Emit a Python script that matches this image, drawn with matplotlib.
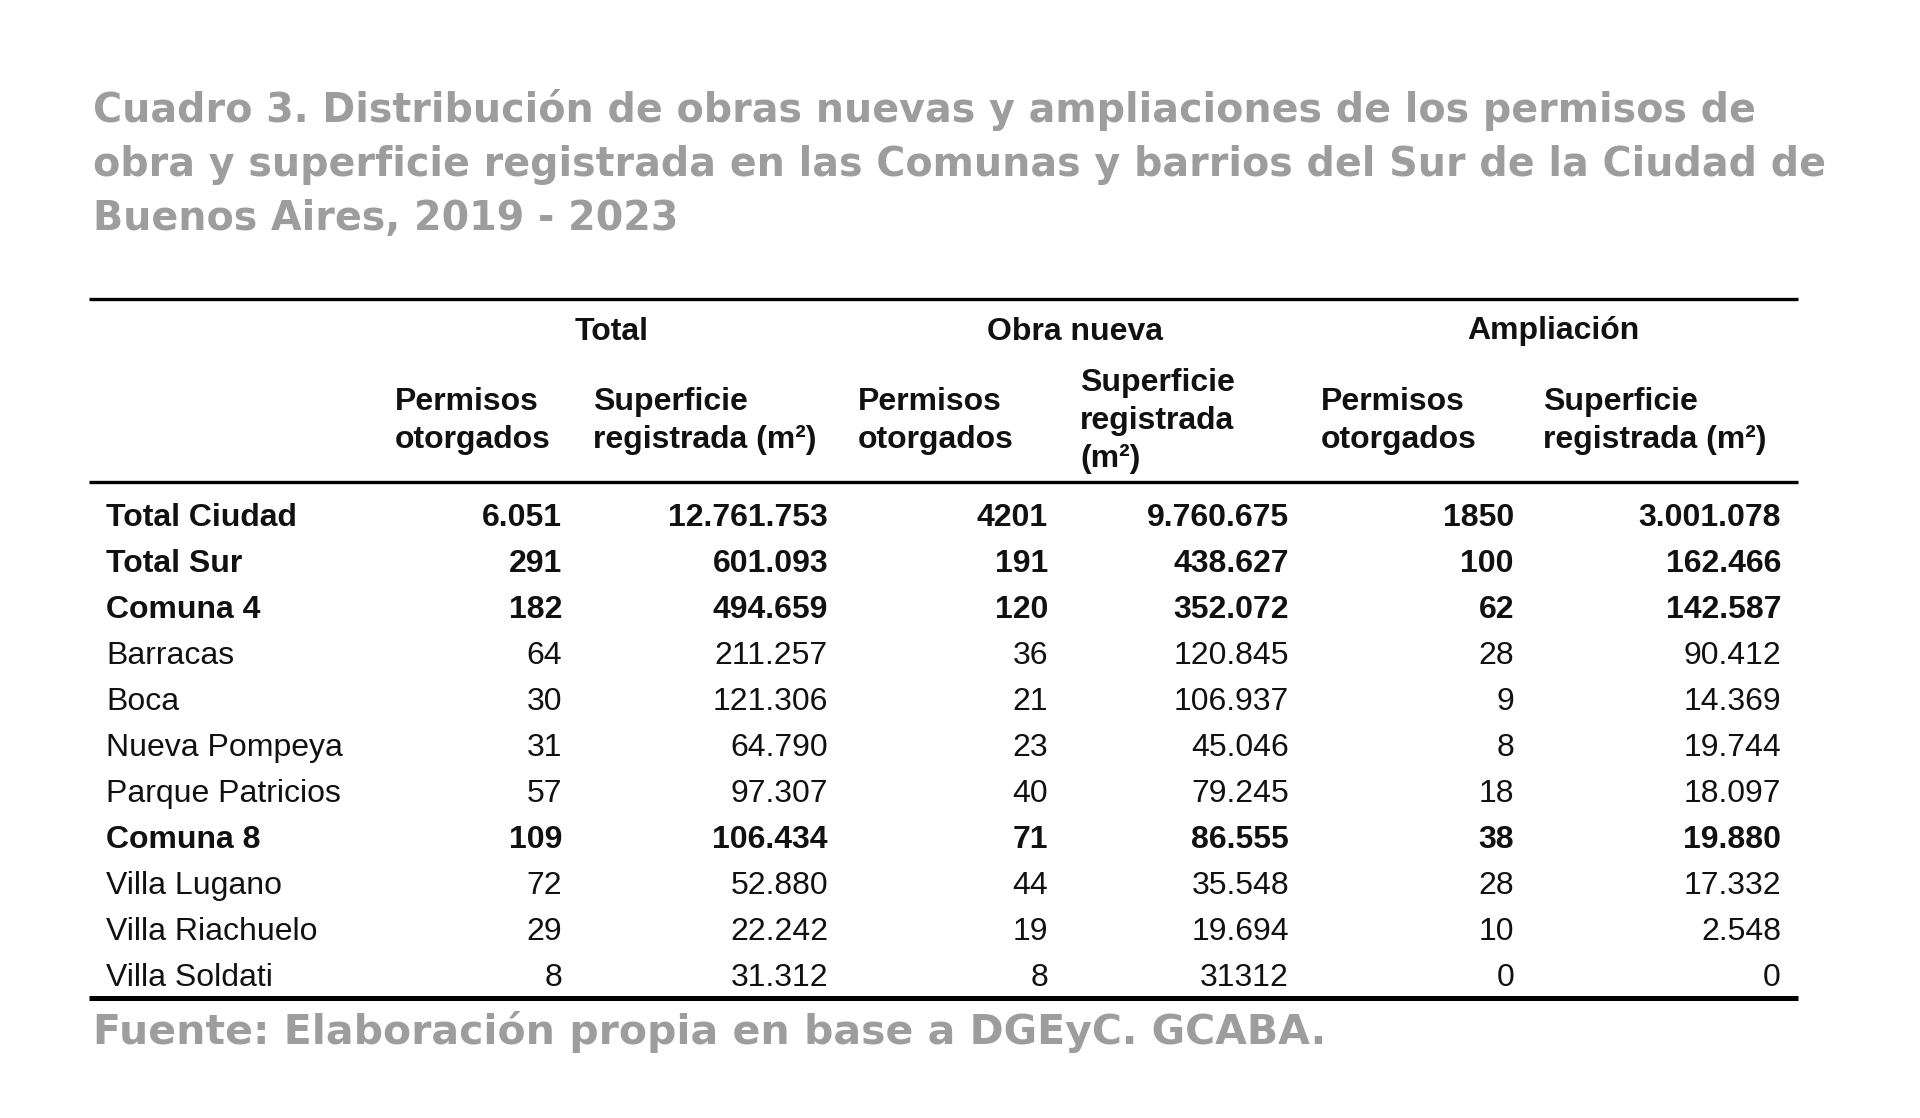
import matplotlib
matplotlib.use("Agg")
import matplotlib.pyplot as plt

# --- data -------------------------------------------------------------
title_lines = [
    "Cuadro 3. Distribución de obras nuevas y ampliaciones de los permisos de",
    "obra y superficie registrada en las Comunas y barrios del Sur de la Ciudad de",
    "Buenos Aires, 2019 - 2023",
]
source = "Fuente: Elaboración propia en base a DGEyC. GCABA."

groups = ["Total", "Obra nueva", "Ampliación"]
subheaders = [
    ["Permisos", "otorgados"],
    ["Superficie", "registrada (m²)"],
    ["Permisos", "otorgados"],
    ["Superficie", "registrada", "(m²)"],
    ["Permisos", "otorgados"],
    ["Superficie", "registrada (m²)"],
]

rows = ["Total Ciudad", "Total Sur", "Comuna 4", "Barracas", "Boca",
        "Nueva Pompeya", "Parque Patricios", "Comuna 8", "Villa Lugano",
        "Villa Riachuelo", "Villa Soldati"]
bold_rows = ["Total Ciudad", "Total Sur", "Comuna 4", "Comuna 8"]

total_permisos = ["6.051", "291", "182", "64", "30", "31", "57", "109", "72", "29", "8"]
total_sup = ["12.761.753", "601.093", "494.659", "211.257", "121.306", "64.790",
             "97.307", "106.434", "52.880", "22.242", "31.312"]
nueva_permisos = ["4201", "191", "120", "36", "21", "23", "40", "71", "44", "19", "8"]
nueva_sup = ["9.760.675", "438.627", "352.072", "120.845", "106.937", "45.046",
             "79.245", "86.555", "35.548", "19.694", "31312"]
ampl_permisos = ["1850", "100", "62", "28", "9", "8", "18", "38", "28", "10", "0"]
ampl_sup = ["3.001.078", "162.466", "142.587", "90.412", "14.369", "19.744",
            "18.097", "19.880", "17.332", "2.548", "0"]
columns = [total_permisos, total_sup, nueva_permisos, nueva_sup, ampl_permisos, ampl_sup]

# --- layout (pixels) --------------------------------------------------
W, H = 1920, 1118
fig = plt.figure(figsize=(W / 100, H / 100), dpi=100)
ax = fig.add_axes([0, 0, 1, 1])
ax.set_xlim(0, W)
ax.set_ylim(H, 0)
ax.axis("off")

gray = "#9d9d9d"
tfont = "DejaVu Sans"
bfont = "Liberation Sans"
fs = 23
cap_off = 11.5  # half cap height in px for body text

# title
for i, line in enumerate(title_lines):
    ax.text(93, 108 + i * 54 + 14, line, fontsize=28.5, fontweight="bold",
            color=gray, family=tfont, va="baseline", ha="left")

# rules
x0, x1 = 89, 1798
ax.plot([x0, x1], [299, 299], color="black", lw=2.4, solid_capstyle="butt")
ax.plot([x0, x1], [482, 482], color="black", lw=2.4, solid_capstyle="butt")
ax.plot([x0, x1], [998, 998], color="black", lw=3.6, solid_capstyle="butt")

# group headers
group_cx = [612, 1075, 1553]
for g, cx in zip(groups, group_cx):
    ax.text(cx, 328 + cap_off, g, fontsize=fs, fontweight="bold", family=bfont,
            ha="center", va="baseline", color="#111111")

# sub headers
sub_left = [395, 593, 858, 1080, 1321, 1543]
line_h = 38
for lines, xl in zip(subheaders, sub_left):
    n = len(lines)
    for k, s in enumerate(lines):
        yb = 429 + (k - (n - 1) / 2) * line_h
        ax.text(xl, yb, s, fontsize=fs, fontweight="bold", family=bfont,
                ha="left", va="baseline", color="#111111")

# body
col_right = [562, 828, 1048, 1289, 1514, 1781]
y_first, step = 514, 46.1
for i, name in enumerate(rows):
    yb = y_first + i * step + cap_off
    w = "bold" if name in bold_rows else "normal"
    ax.text(106, yb, name, fontsize=fs, fontweight=w, family=bfont,
            ha="left", va="baseline", color="#111111")
    for col, xr in zip(columns, col_right):
        ax.text(xr, yb, col[i], fontsize=fs, fontweight=w, family=bfont,
                ha="right", va="baseline", color="#111111")

# source
ax.text(93, 1029 + 15, source, fontsize=29.5, fontweight="bold", color=gray,
        family=tfont, va="baseline", ha="left")

fig.savefig("out.png", dpi=100, facecolor="white")
